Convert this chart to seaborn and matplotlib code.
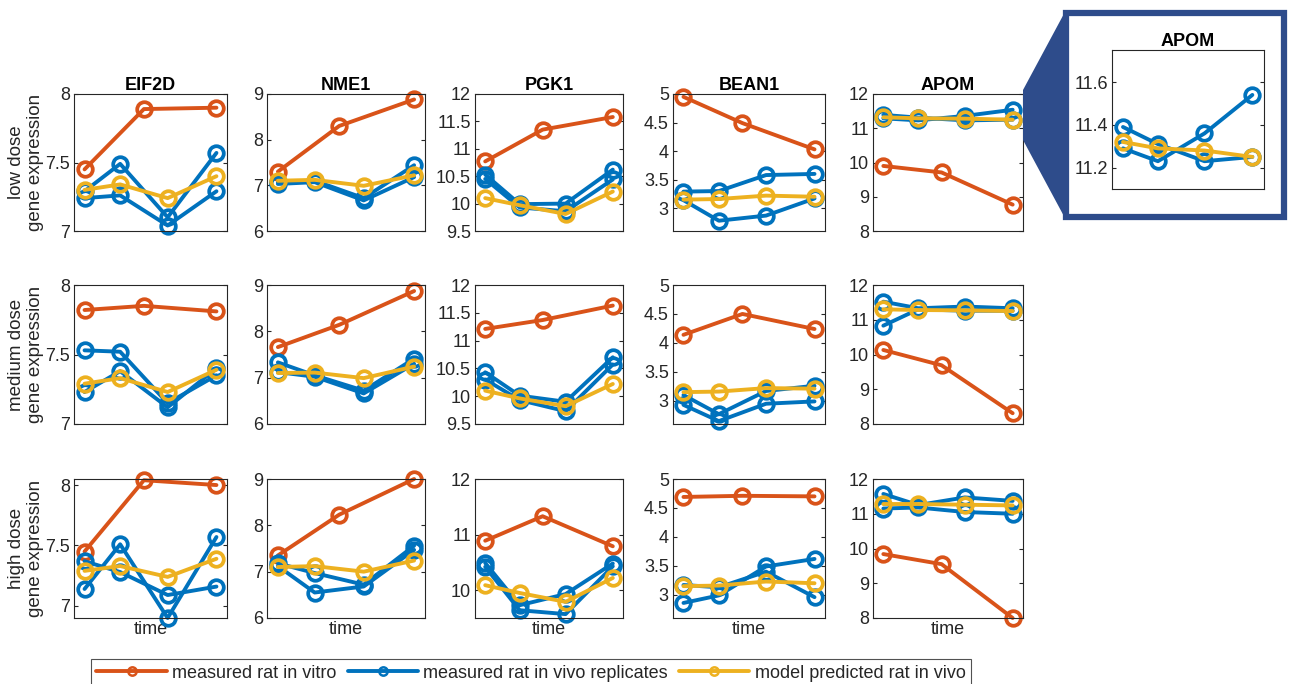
import matplotlib
matplotlib.use('Agg')
import pandas as pd
import matplotlib.pyplot as plt
import seaborn as sns
from matplotlib.patches import Rectangle, Polygon
from matplotlib.ticker import FormatStrFormatter

## data (rows = low / medium / high dose)
genes = ['EIF2D', 'NME1', 'PGK1', 'BEAN1', 'APOM']
doses = ['low dose', 'medium dose', 'high dose']
series = ['measured rat in vitro', 'measured rat in vivo replicates', 'model predicted rat in vivo']
colors = ['#D95319', '#0072BD', '#EDB120']

time_vitro = [0.0, 0.45, 1.0]
time_vivo = [0.0, 0.27, 0.63, 1.0]

eif2d_vitro = [[7.45, 7.89, 7.90], [7.82, 7.85, 7.81], [7.45, 8.04, 8.00]]
eif2d_rep1 = [[7.29, 7.49, 7.10, 7.57], [7.53, 7.52, 7.15, 7.35], [7.14, 7.51, 6.90, 7.57]]
eif2d_rep2 = [[7.24, 7.26, 7.04, 7.29], [7.23, 7.38, 7.12, 7.40], [7.37, 7.28, 7.09, 7.16]]
eif2d_model = [[7.30, 7.34, 7.24, 7.40], [7.29, 7.33, 7.23, 7.39], [7.29, 7.33, 7.24, 7.39]]

nme1_vitro = [[7.30, 8.30, 8.88], [7.66, 8.14, 8.87], [7.35, 8.23, 9.00]]
nme1_rep1 = [[7.07, 7.10, 6.72, 7.44], [7.33, 7.05, 6.72, 7.41], [7.18, 6.97, 6.72, 7.56]]
nme1_rep2 = [[7.03, 7.07, 6.67, 7.18], [7.12, 7.02, 6.66, 7.30], [7.12, 6.55, 6.68, 7.47]]
nme1_model = [[7.10, 7.12, 6.99, 7.22], [7.10, 7.11, 6.99, 7.24], [7.10, 7.12, 7.00, 7.24]]

pgk1_vitro = [[10.77, 11.35, 11.58], [11.21, 11.37, 11.63], [10.89, 11.33, 10.79]]
pgk1_rep1 = [[10.53, 9.99, 10.00, 10.62], [10.43, 10.01, 9.90, 10.70], [10.49, 9.73, 9.93, 10.48]]
pgk1_rep2 = [[10.45, 9.93, 9.86, 10.44], [10.30, 9.93, 9.73, 10.57], [10.42, 9.64, 9.57, 10.43]]
pgk1_model = [[10.10, 9.97, 9.81, 10.22], [10.10, 9.96, 9.82, 10.22], [10.09, 9.95, 9.79, 10.22]]

bean1_vitro = [[4.95, 4.49, 4.03], [4.14, 4.50, 4.24], [4.69, 4.71, 4.70]]
bean1_rep1 = [[3.29, 3.30, 3.58, 3.60], [3.10, 2.77, 3.17, 3.26], [2.86, 2.99, 3.49, 3.62]]
bean1_rep2 = [[3.14, 2.78, 2.87, 3.17], [2.93, 2.65, 2.95, 2.99], [3.17, 3.13, 3.40, 2.96]]
bean1_model = [[3.15, 3.16, 3.22, 3.20], [3.15, 3.16, 3.22, 3.21], [3.15, 3.16, 3.23, 3.20]]

apom_vitro = [[9.90, 9.71, 8.77], [10.13, 9.69, 8.31], [9.84, 9.55, 8.00]]
apom_rep1 = [[11.39, 11.31, 11.23, 11.25], [11.52, 11.33, 11.38, 11.33], [11.57, 11.25, 11.47, 11.37]]
apom_rep2 = [[11.29, 11.23, 11.36, 11.54], [10.83, 11.30, 11.26, 11.26], [11.15, 11.18, 11.05, 11.00]]
apom_model = [[11.32, 11.29, 11.28, 11.25], [11.30, 11.28, 11.27, 11.25], [11.28, 11.28, 11.26, 11.24]]

gene_data = {
    'EIF2D': (eif2d_vitro, eif2d_rep1, eif2d_rep2, eif2d_model),
    'NME1': (nme1_vitro, nme1_rep1, nme1_rep2, nme1_model),
    'PGK1': (pgk1_vitro, pgk1_rep1, pgk1_rep2, pgk1_model),
    'BEAN1': (bean1_vitro, bean1_rep1, bean1_rep2, bean1_model),
    'APOM': (apom_vitro, apom_rep1, apom_rep2, apom_model),
}

rows = []
for gene, (vitro, rep1, rep2, model) in gene_data.items():
    for d, dose in enumerate(doses):
        for t, v in zip(time_vitro, vitro[d]):
            rows.append((gene, dose, series[0], 'vitro', t, v))
        for rep, vals in (('rep1', rep1[d]), ('rep2', rep2[d])):
            for t, v in zip(time_vivo, vals):
                rows.append((gene, dose, series[1], rep, t, v))
        for t, v in zip(time_vivo, model[d]):
            rows.append((gene, dose, series[2], 'model', t, v))
df = pd.DataFrame(rows, columns=['gene', 'dose', 'series', 'rep', 'time', 'expr'])

# axis limits / ticks per gene (high dose differs for some)
ylims = {'EIF2D': (7, 8), 'NME1': (6, 9), 'PGK1': (9.5, 12), 'BEAN1': (2.6, 5), 'APOM': (8, 12)}
yticks = {'EIF2D': [7, 7.5, 8], 'NME1': [6, 7, 8, 9], 'PGK1': [9.5, 10, 10.5, 11, 11.5, 12],
          'BEAN1': [3, 3.5, 4, 4.5, 5], 'APOM': [8, 9, 10, 11, 12]}

sns.set_theme(style='white')
plt.rcParams['font.family'] = ['Liberation Sans', 'DejaVu Sans']
dark = '#262626'
blue_frame = '#2E4C8B'

W, H = 1292, 684
fig = plt.figure(figsize=(W / 100, H / 100), dpi=100)


def px_axes(x0, x1, y0, y1):
    return fig.add_axes([x0 / W, 1 - y1 / H, (x1 - x0) / W, (y1 - y0) / H])


def draw(ax, sub, clip=True):
    sns.lineplot(data=sub, x='time', y='expr', hue='series', hue_order=series, palette=colors,
                 units='rep', estimator=None, sort=False, marker='o', markersize=10.5,
                 markeredgewidth=2.7, markerfacecolor='none', linewidth=2.8, legend=False, ax=ax)
    for line in ax.lines:
        line.set_markeredgecolor(line.get_color())
        line.set_clip_on(clip)
    ax.set_xticks([])
    ax.set_xlabel('')
    ax.set_ylabel('')
    ax.yaxis.set_major_formatter(FormatStrFormatter('%g'))
    ax.tick_params(axis='y', direction='in', left=True, right=True, length=3, width=0.8,
                   labelsize=13, colors=dark, pad=3)
    for s in ax.spines.values():
        s.set_visible(True)
        s.set_color(dark)
        s.set_linewidth(0.8)


col_x = [(74, 227), (267, 425), (475, 623), (673, 825), (873, 1023)]
row_y = [(94, 231), (285, 424), (479, 618)]

axes = []
for r, dose in enumerate(doses):
    row_axes = []
    for c, gene in enumerate(genes):
        ax = px_axes(col_x[c][0], col_x[c][1], row_y[r][0], row_y[r][1])
        draw(ax, df[(df.gene == gene) & (df.dose == dose)], clip=False)
        ax.set_xlim(-0.08, 1.08)
        lo, hi = ylims[gene]
        ticks = yticks[gene]
        if r == 2 and gene == 'EIF2D':
            lo, hi = 6.9, 8.05
        if r == 2 and gene == 'PGK1':
            ticks = [10, 11, 12]
        ax.set_ylim(lo, hi)
        ax.set_yticks(ticks)
        if r == 0:
            ax.set_title(gene, fontweight='bold', fontsize=13, pad=3, color='black')
        if c == 0:
            ax.set_ylabel(dose + '\ngene expression', fontsize=13.5, color=dark)
            ax.yaxis.set_label_coords(-0.195, 0.5)
        if r == 2:
            ax.set_xlabel('time', fontsize=13, color=dark, labelpad=2)
        row_axes.append(ax)
    axes.append(row_axes)

# zoomed APOM (low dose) inset with connector
poly_pts = [(1023, 90), (1066, 10), (1066, 220), (1023, 140)]
fig.add_artist(Polygon([(x / W, 1 - y / H) for x, y in poly_pts], closed=True,
                       transform=fig.transFigure, facecolor=blue_frame, edgecolor='none'))
fig.add_artist(Rectangle((1066 / W, 1 - 217 / H), (1284 - 1066) / W, (217 - 13) / H,
                         transform=fig.transFigure, facecolor='white', edgecolor=blue_frame,
                         linewidth=4.5, zorder=-1))
inset = px_axes(1112, 1264, 50, 189)
draw(inset, df[(df.gene == 'APOM') & (df.dose == 'low dose')], clip=True)
inset.set_xlim(-0.085, 1.09)
inset.set_ylim(11.1, 11.75)
inset.set_yticks([11.2, 11.4, 11.6])
inset.yaxis.set_major_formatter(FormatStrFormatter('%.1f'))
inset.set_title('APOM', fontweight='bold', fontsize=13, pad=3, color='black')

# legend
ref = axes[0][0]
handles = []
for col in colors:
    for line in ref.lines:
        if matplotlib.colors.to_hex(line.get_color()).lower() == col.lower():
            handles.append(line)
            break
leg = fig.legend(handles, series, loc='center', bbox_to_anchor=(531 / W, 1 - 673 / H), ncol=3,
                 fontsize=13, frameon=True, fancybox=False, edgecolor=dark, handlelength=3.9,
                 columnspacing=0.6, handletextpad=0.3, borderpad=0.3, borderaxespad=0)
leg.get_frame().set_linewidth(0.8)
for h in leg.legend_handles:
    h.set_markersize(6)
    h.set_markeredgewidth(1.8)

fig.savefig('out.png', dpi=100)
